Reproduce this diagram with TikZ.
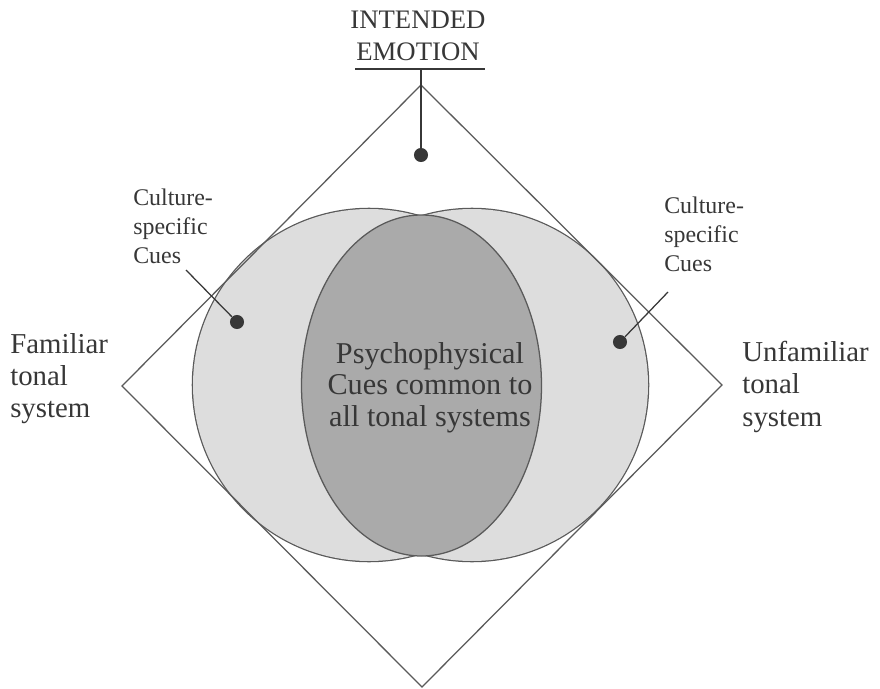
\documentclass[tikz,border=0pt]{standalone}
\usepackage{tikz}
\usepackage{xcolor}
\usepackage{fontspec}
\setmainfont{Liberation Serif}
\definecolor{edge}{RGB}{90,90,90}
\definecolor{ink}{RGB}{55,55,55}
\definecolor{outerfill}{RGB}{221,221,221}
\definecolor{innerfill}{RGB}{170,170,170}

\begin{document}
\begin{tikzpicture}[x=0.025cm, y=-0.025cm,
  sidetext/.style={anchor=north west, align=left, inner sep=0pt, text=ink, font=\fontsize{20.5}{23}\selectfont},
  cuetext/.style={anchor=north west, align=left, inner sep=0pt, text=ink, font=\fontsize{17}{20.4}\selectfont},
  cuedot/.style={circle, fill=ink, inner sep=0pt, minimum size=10pt},
  leader/.style={draw=ink, line width=0.9pt}]
  \useasboundingbox (0,0) rectangle (880,689);

  % Overlapping cue regions (outline drawn wide, then covered by the fills)
  \coordinate (leftc) at (369,385);
  \coordinate (rightc) at (472,385);
  \draw[edge, line width=1.8pt] (leftc) circle[radius=176];
  \draw[edge, line width=1.8pt] (rightc) circle[radius=176];
  \fill[outerfill] (leftc) circle[radius=176];
  \fill[outerfill] (rightc) circle[radius=176];
  \filldraw[fill=innerfill, draw=edge, line width=0.9pt] (421.5,385.5) ellipse[x radius=120, y radius=170.5];

  % Diamond
  \coordinate (dtop) at (421,85);
  \coordinate (dright) at (722,385);
  \coordinate (dbottom) at (422,687);
  \coordinate (dleft) at (122,386);
  \draw[edge, line width=0.9pt] (dtop) -- (dright) -- (dbottom) -- (dleft) -- cycle;

  % Title
  \node[anchor=north, align=center, inner sep=0pt, text=ink, font=\fontsize{19}{22.8}\selectfont] (title) at (418,11) {INTENDED\\EMOTION};
  \coordinate (titlebar) at (421,69);
  \draw[ink, line width=0.9pt] (355,69) -- (485,69);
  \node[cuedot] (topdot) at (421,155) {};
  \draw[leader] (titlebar) -- (topdot);

  % Culture-specific cues
  \node[cuetext] (leftcue) at (133,189) {Culture-\\specific\\Cues};
  \node[cuetext] (rightcue) at (664,197) {Culture-\\specific\\Cues};
  \node[cuedot] (leftdot) at (237,322) {};
  \node[cuedot] (rightdot) at (620,342) {};
  \coordinate (leftlead) at (186,270);
  \coordinate (rightlead) at (668,292);
  \draw[leader] (leftlead) -- (leftdot);
  \draw[leader] (rightlead) -- (rightdot);

  % Tonal systems
  \node[sidetext] (familiar) at (10,333) {Familiar\\tonal\\system};
  \node[sidetext] (unfamiliar) at (742,341) {Unfamiliar\\tonal\\system};

  % Common cues
  \node[anchor=north, align=center, inner sep=0pt, text=ink, font=\fontsize{21.5}{22.5}\selectfont] (common) at (430,342) {Psychophysical\\Cues common to\\all tonal systems};

\end{tikzpicture}
\end{document}
